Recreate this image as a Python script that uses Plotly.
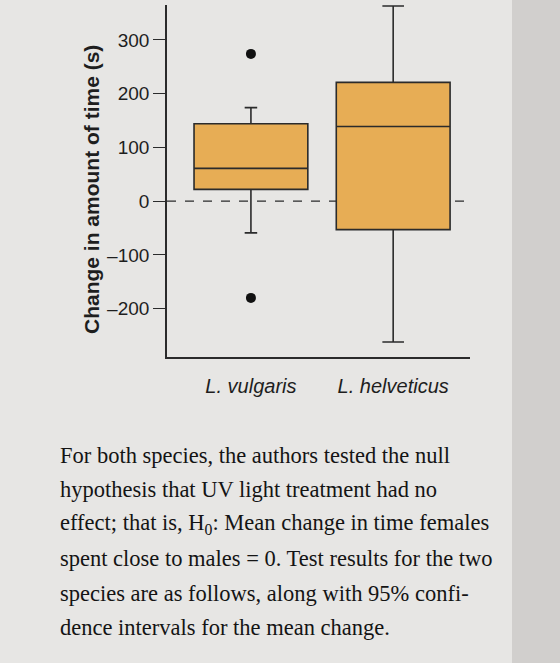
import plotly.graph_objects as go

categories = ["L. vulgaris", "L. helveticus"]
q1 = [22, -53]
median = [61, 139]
q3 = [144, 221]
lower_whisker = [-59, -262]
upper_whisker = [174, 363]
outlier_x = ["L. vulgaris", "L. vulgaris"]
outlier_y = [274, -180]
y_ticks = [-200, -100, 0, 100, 200, 300]

paragraph = [
    "For both species, the authors tested the null",
    "hypothesis that UV light treatment had no",
    "effect; that is, H<sub>0</sub>: Mean change in time females",
    "spent close to males = 0. Test results for the two",
    "species are as follows, along with 95% confi-",
    "dence intervals for the mean change.",
]

fill = "#E7AD55"
ink = "#2b2b2b"
bg = "#e7e6e4"

fig = go.Figure()
cap = [0.11, 0.19]
for i, c in enumerate(categories):
    fig.add_trace(go.Box(
        x=[c], q1=[q1[i]], median=[median[i]], q3=[q3[i]],
        lowerfence=[lower_whisker[i]], upperfence=[upper_whisker[i]],
        boxpoints=False, fillcolor=fill, line=dict(color=ink, width=1.6),
        width=0.8, whiskerwidth=cap[i], showlegend=False, hoverinfo="skip",
    ))

fig.add_trace(go.Scatter(
    x=outlier_x, y=outlier_y, mode="markers",
    marker=dict(color="#111111", size=10), showlegend=False,
))

fig.add_shape(type="line", xref="paper", yref="y", x0=0, x1=1, y0=0, y1=0,
              line=dict(color=ink, width=1.4, dash="dash"), layer="below")

# shaded page edge at the right of the photo
fig.add_shape(type="rect", xref="paper", yref="paper",
              x0=(512 - 167) / 303, x1=(562 - 167) / 303,
              y0=(357 - 665) / 352, y1=(357 + 2) / 352,
              fillcolor="#d1cfcd", line=dict(width=0), layer="below")

fig.add_annotation(
    text="<b>Change in amount of time (s)</b>", textangle=-90,
    xref="paper", yref="paper", x=(91 - 167) / 303, y=(357 - 190) / 352,
    xanchor="center", yanchor="middle", showarrow=False,
    font=dict(family="Liberation Sans", size=21, color="#1e1e1e"),
)

for k, line in enumerate(paragraph):
    fig.add_annotation(
        text=line, xref="paper", yref="paper", x=(58 - 167) / 303,
        y=(357 - 455 - k * 34.5) / 352,
        xanchor="left", yanchor="middle", showarrow=False,
        font=dict(family="Liberation Serif", size=22.5, color="#141414"),
    )

fig.update_layout(
    width=560, height=663,
    margin=dict(l=167, r=90, t=5, b=306),
    paper_bgcolor=bg, plot_bgcolor=bg,
    font=dict(family="Liberation Sans", color="#222222"),
    xaxis=dict(
        type="category", categoryorder="array", categoryarray=categories,
        range=[-0.59, 1.54], showline=True, linecolor=ink, linewidth=1.6,
        ticks="", showgrid=False, zeroline=False, ticklabelstandoff=10,
        tickfont=dict(size=20, style="italic", color="#1e1e1e"),
    ),
    yaxis=dict(
        range=[-290, 365], tickvals=y_ticks,
        ticktext=[str(v).replace("-", "\u2013") for v in y_ticks],
        showline=True, linecolor=ink, linewidth=1.6,
        ticks="outside", ticklen=12, tickwidth=1.4, tickcolor=ink,
        showgrid=False, zeroline=False,
        tickfont=dict(size=19, color="#1e1e1e"),
    ),
)

fig.write_html("out.html")
